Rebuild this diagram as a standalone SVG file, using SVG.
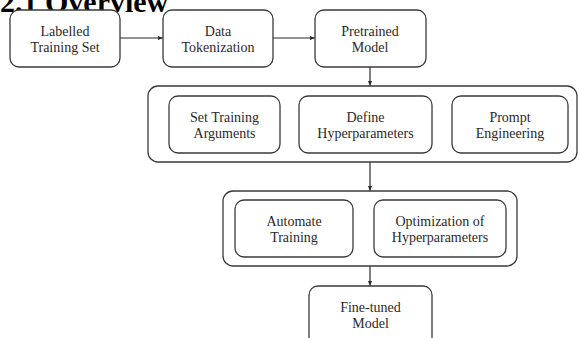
<svg xmlns="http://www.w3.org/2000/svg" width="579" height="338" viewBox="0 0 579 338">
  <style>
    .box { fill: #fff; stroke: #3a3a3a; stroke-width: 1.3; }
    .grp { fill: #fff; stroke: #3a3a3a; stroke-width: 1.3; }
    .lbl { font-family: "Liberation Serif", "Times New Roman", serif; font-size: 14px; fill: #2a2a2a; text-anchor: middle; }
    .edge { stroke: #2a2a2a; stroke-width: 1.2; fill: none; marker-end: url(#arrow); }
    .title { font-family: "Liberation Serif", "Times New Roman", serif; font-size: 30px; font-weight: bold; fill: #000; }
  </style>
  <defs>
    <marker id="arrow" viewBox="0 0 10 10" refX="10" refY="5" markerWidth="5" markerHeight="5" orient="auto" markerUnits="userSpaceOnUse">
      <path d="M0,1 L10,5 L0,9 z" fill="#2a2a2a"/>
    </marker>
  </defs>

  <rect width="579" height="338" fill="#fff"/>

  <text class="title" x="0" y="12">2.1 Overview</text>

  <g id="connectors">
    <line class="edge" x1="120" y1="38" x2="163" y2="38"/>
    <line class="edge" x1="273" y1="38" x2="315" y2="38"/>
    <line class="edge" x1="370" y1="67" x2="370" y2="86"/>
    <line class="edge" x1="370" y1="162" x2="370" y2="191"/>
    <line class="edge" x1="370" y1="266" x2="370" y2="286"/>
  </g>

  <g id="labelled-training-set">
    <rect class="box" x="10" y="10" width="110" height="57" rx="9"/>
    <text class="lbl" x="65" y="36">Labelled</text>
    <text class="lbl" x="65" y="52">Training Set</text>
  </g>

  <g id="data-tokenization">
    <rect class="box" x="163" y="10" width="110" height="57" rx="9"/>
    <text class="lbl" x="218" y="36">Data</text>
    <text class="lbl" x="218" y="52">Tokenization</text>
  </g>

  <g id="pretrained-model">
    <rect class="box" x="315" y="10" width="111" height="57" rx="9"/>
    <text class="lbl" x="370" y="36">Pretrained</text>
    <text class="lbl" x="370" y="52">Model</text>
  </g>

  <g id="setup-stage">
    <rect class="grp" x="148" y="86" width="429" height="76" rx="10"/>
    <g id="set-training-arguments">
      <rect class="box" x="169" y="96" width="111" height="57" rx="9"/>
      <text class="lbl" x="224.5" y="122">Set Training</text>
      <text class="lbl" x="224.5" y="138">Arguments</text>
    </g>
    <g id="define-hyperparameters">
      <rect class="box" x="299" y="96" width="133" height="57" rx="9"/>
      <text class="lbl" x="365.5" y="122">Define</text>
      <text class="lbl" x="365.5" y="138">Hyperparameters</text>
    </g>
    <g id="prompt-engineering">
      <rect class="box" x="452" y="96" width="116" height="57" rx="9"/>
      <text class="lbl" x="510" y="122">Prompt</text>
      <text class="lbl" x="510" y="138">Engineering</text>
    </g>
  </g>

  <g id="training-stage">
    <rect class="grp" x="223" y="191" width="294" height="75" rx="10"/>
    <g id="automate-training">
      <rect class="box" x="235" y="200" width="118" height="57" rx="9"/>
      <text class="lbl" x="294" y="226">Automate</text>
      <text class="lbl" x="294" y="242">Training</text>
    </g>
    <g id="optimization-of-hyperparameters">
      <rect class="box" x="374" y="200" width="132" height="57" rx="9"/>
      <text class="lbl" x="440" y="226">Optimization of</text>
      <text class="lbl" x="440" y="242">Hyperparameters</text>
    </g>
  </g>

  <g id="fine-tuned-model">
    <rect class="box" x="309" y="286" width="123" height="62" rx="9"/>
    <text class="lbl" x="370.5" y="312">Fine-tuned</text>
    <text class="lbl" x="370.5" y="328">Model</text>
  </g>
</svg>
